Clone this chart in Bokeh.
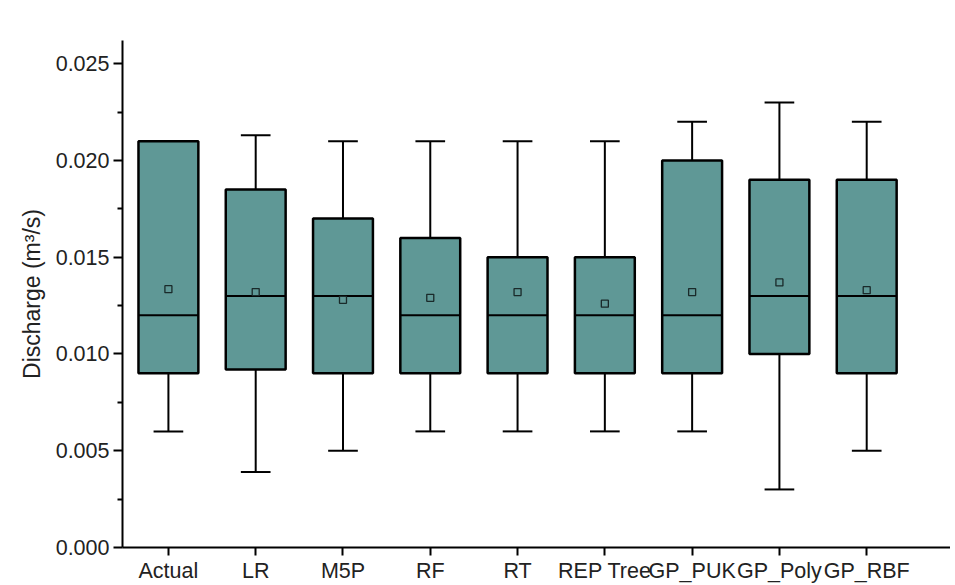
from bokeh.plotting import figure
from bokeh.models import ColumnDataSource, FixedTicker, Range1d
from bokeh.embed import file_html
from bokeh.resources import INLINE

categories = ["Actual", "LR", "M5P", "RF", "RT", "REP Tree", "GP_PUK", "GP_Poly", "GP_RBF"]
whisker_low = [0.006, 0.0039, 0.005, 0.006, 0.006, 0.006, 0.006, 0.003, 0.005]
q1 = [0.009, 0.0092, 0.009, 0.009, 0.009, 0.009, 0.009, 0.010, 0.009]
median = [0.012, 0.013, 0.013, 0.012, 0.012, 0.012, 0.012, 0.013, 0.013]
q3 = [0.021, 0.0185, 0.017, 0.016, 0.015, 0.015, 0.020, 0.019, 0.019]
whisker_high = [0.021, 0.0213, 0.021, 0.021, 0.021, 0.021, 0.022, 0.023, 0.022]
mean = [0.01335, 0.0132, 0.0128, 0.0129, 0.0132, 0.0126, 0.0132, 0.0137, 0.0133]

xs = list(range(len(categories)))
box_w = 0.686
cap_half = 0.17
fill = "#5F9896"

src = ColumnDataSource(dict(
    x=xs, lo=whisker_low, q1=q1, med=median, q3=q3, hi=whisker_high, mean=mean,
    cl=[x - cap_half for x in xs], cr=[x + cap_half for x in xs],
    bl=[x - box_w / 2 for x in xs], br=[x + box_w / 2 for x in xs],
))

p = figure(width=950, height=585, output_backend="svg", toolbar_location=None,
           x_range=Range1d(-0.526, 8.96), y_range=Range1d(0, 0.0262),
           min_border_left=122, min_border_top=40, min_border_right=0, min_border_bottom=38)
p.outline_line_color = None
p.grid.visible = False

# whiskers
p.segment(x0="x", y0="q3", x1="x", y1="hi", source=src, line_color="black", line_width=2)
p.segment(x0="x", y0="lo", x1="x", y1="q1", source=src, line_color="black", line_width=2)
p.segment(x0="cl", y0="hi", x1="cr", y1="hi", source=src, line_color="black", line_width=2)
p.segment(x0="cl", y0="lo", x1="cr", y1="lo", source=src, line_color="black", line_width=2)
# boxes
p.vbar(x="x", width=box_w, bottom="q1", top="q3", source=src,
       fill_color=fill, line_color="black", line_width=2.5)
# medians
p.segment(x0="bl", y0="med", x1="br", y1="med", source=src, line_color="black", line_width=2)
# means
p.scatter(x="x", y="mean", source=src, marker="square", size=7,
          fill_color=fill, line_color="#1a2a2a", line_width=1.3)

font = "Liberation Sans"
p.xaxis.ticker = FixedTicker(ticks=xs)
p.xaxis.major_label_overrides = {i: c for i, c in enumerate(categories)}
p.xaxis.minor_tick_line_color = None
p.yaxis.ticker = FixedTicker(ticks=[0, 0.005, 0.01, 0.015, 0.02, 0.025],
                             minor_ticks=[0.0025, 0.0075, 0.0125, 0.0175, 0.0225])
p.yaxis.major_label_overrides = {0: "0.000", 0.005: "0.005", 0.01: "0.010",
                                 0.015: "0.015", 0.02: "0.020", 0.025: "0.025"}
for ax in (p.xaxis[0], p.yaxis[0]):
    ax.axis_line_width = 2
    ax.axis_line_color = "black"
    ax.major_tick_line_width = 2
    ax.major_tick_line_color = "black"
    ax.major_tick_out = 9
    ax.major_tick_in = 0
    ax.major_label_text_font = font
    ax.major_label_text_font_size = "21.5px"
    ax.major_label_text_color = "#222222"
p.xaxis.major_tick_out = 8
p.yaxis.minor_tick_line_width = 2
p.yaxis.minor_tick_line_color = "black"
p.yaxis.minor_tick_out = 5
p.yaxis.minor_tick_in = 0
p.yaxis.major_label_standoff = 4
p.xaxis.major_label_standoff = 3
p.yaxis.axis_label = "Discharge (m\u00b3/s)"
p.yaxis.axis_label_text_font = font
p.yaxis.axis_label_text_font_size = "23px"
p.yaxis.axis_label_text_font_style = "normal"
p.yaxis.axis_label_text_color = "#222222"
p.yaxis.axis_label_standoff = 8

open("out.html", "w").write(file_html(p, INLINE))
